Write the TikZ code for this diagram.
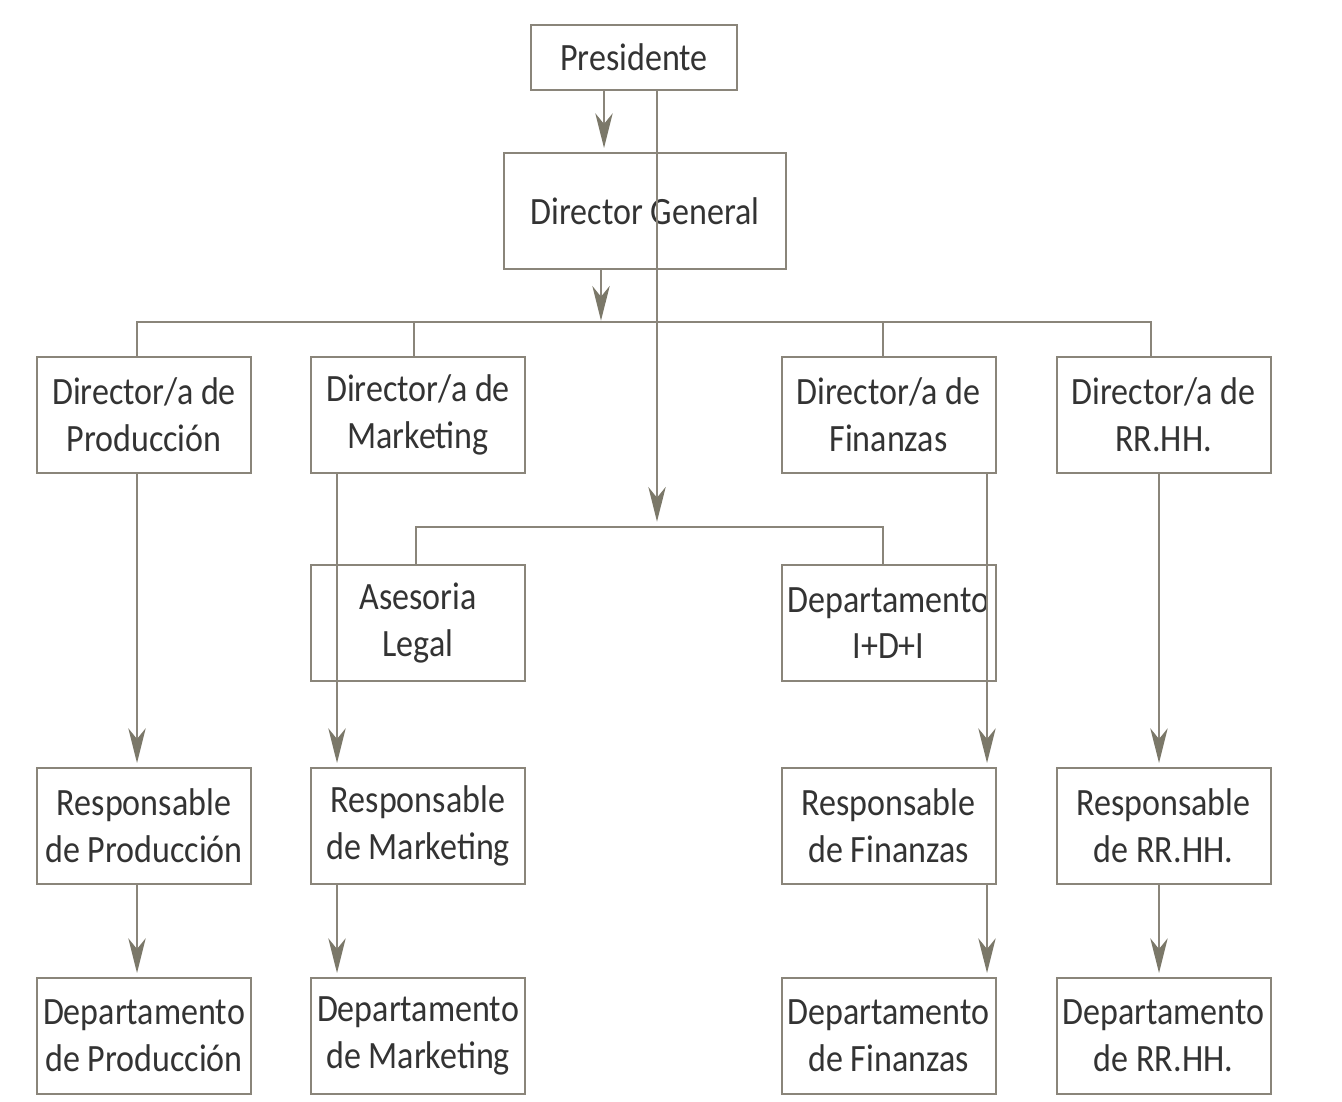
\documentclass[tikz,border=0pt]{standalone}
\usepackage{fontspec}
\setmainfont{Carlito}[FakeStretch=0.88]
\usetikzlibrary{arrows.meta}
\definecolor{boxc}{HTML}{8A857A}
\definecolor{linec}{HTML}{8A857A}
\definecolor{tipc}{HTML}{7B7869}
\definecolor{txtc}{HTML}{333333}
\begin{document}
\begin{tikzpicture}[x=0.75pt,y=-0.75pt,
  box/.style={draw=boxc, line width=1.5pt, inner sep=0pt, align=center,
    text=txtc, font=\fontsize{29pt}{35pt}\selectfont, minimum width=160.5pt, minimum height=87pt},
  ln/.style={draw=linec, line width=1.5pt},
  arr/.style={ln, -{Stealth[length=26pt,width=13pt,inset=8pt,fill=tipc,color=tipc]}, shorten >=3pt}]
\fill[white] (0,0) rectangle (1342,1102);
\useasboundingbox (0,0) rectangle (1342,1102);
% nodes
\node[box, minimum width=154.5pt, minimum height=48.75pt] (pres) at (634,57.5) {Presidente};
\node[box, minimum width=211.5pt] (dg) at (645,211) {Director General};
\node[box] (prod) at (144,415) {Director/a de\\Producción};
\node[box] (mkt) at (418,415) {Director/a de\\Marketing};
\node[box] (fin) at (888.5,415) {Director/a de\\Finanzas};
\node[box] (rrhh) at (1163.5,415) {Director/a de\\RR.HH.};
\node[box] (legal) at (418,623) {Asesoria\\Legal};
\node[box] (idi) at (888.5,623) {Departamento\\I+D+I};
\node[box] (rp) at (144,826) {Responsable\\de Producción};
\node[box] (rm) at (418,826) {Responsable\\de Marketing};
\node[box] (rf) at (888.5,826) {Responsable\\de Finanzas};
\node[box] (rr) at (1163.5,826) {Responsable\\de RR.HH.};
\node[box] (dp) at (144,1036) {Departamento\\de Producción};
\node[box] (dm) at (418,1036) {Departamento\\de Marketing};
\node[box] (df) at (888.5,1036) {Departamento\\de Finanzas};
\node[box] (dr) at (1163.5,1036) {Departamento\\de RR.HH.};
% helper coordinates
\coordinate (kP) at (604,0);
\coordinate (kV) at (657,527);
\coordinate (kG) at (601,322);
\coordinate (k1) at (137,0);
\coordinate (k2) at (414,0);
\coordinate (k3) at (883,0);
\coordinate (k4) at (1151,0);
\coordinate (kL) at (416,0);
\coordinate (kI) at (883,0);
\coordinate (v1) at (137,0);
\coordinate (v2) at (337,0);
\coordinate (v3) at (987,0);
\coordinate (v4) at (1159,0);
% connectors
\draw[arr] (pres.south -| kP) -- (dg.north -| kP);
\draw[ln] (legal.north -| kL) |- (kV) -| (idi.north -| kI);
\draw[arr, shorten >=4pt] (pres.south -| kV) -- (kV);
\draw[ln] (prod.north -| k1) |- (kG) -| (rrhh.north -| k4);
\draw[ln] (mkt.north -| k2) -- (k2 |- kG);
\draw[ln] (fin.north -| k3) -- (k3 |- kG);
\draw[arr, shorten >=1pt] (dg.south -| kG) -- (kG);
\draw[arr] (prod.south -| v1) -- (rp.north -| v1);
\draw[arr] (mkt.south -| v2) -- (rm.north -| v2);
\draw[arr] (fin.south -| v3) -- (rf.north -| v3);
\draw[arr] (rrhh.south -| v4) -- (rr.north -| v4);
\draw[arr] (rp.south -| v1) -- (dp.north -| v1);
\draw[arr] (rm.south -| v2) -- (dm.north -| v2);
\draw[arr] (rf.south -| v3) -- (df.north -| v3);
\draw[arr] (rr.south -| v4) -- (dr.north -| v4);
\end{tikzpicture}
\end{document}
